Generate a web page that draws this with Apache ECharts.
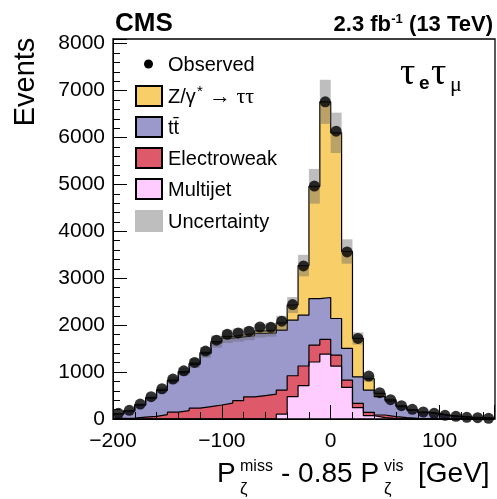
<!DOCTYPE html>
<html><head><meta charset="utf-8">
<script src="https://cdn.jsdelivr.net/npm/echarts@6/dist/echarts.min.js"></script>
<style>html,body{margin:0;padding:0;background:#fff}#c{width:497px;height:499px}</style>
</head><body><div id="c"></div>
<script>
// bin low edges (GeV), width 10
const binLow = [-200,-190,-180,-170,-160,-150,-140,-130,-120,-110,-100,-90,-80,-70,-60,-50,-40,-30,-20,-10,0,10,20,30,40,50,60,70,80,90,100,110,120,130,140];
const binWidth = 10;
const observed   = [121,185,319,475,645,851,1028,1206,1447,1681,1805,1834,1873,1961,1955,2085,2440,3263,4965,6760,6135,3561,1717,915,560,411,284,206,149,121,78,57,36,28,15];
const multijet   = [0,0,0,0,0,0,0,0,0,0,0,0,0,0,0,106,475,710,1215,1383,1128,674,241,70,28,10,5,2,1,0,0,0,0,0,0];
const electroweak= [12,20,40,57,92,145,180,230,262,298,340,390,470,500,530,511,447,420,360,313,234,156,92,72,57,40,23,13,9,6,4,3,2,1,1];
const ttbar      = [98,152,255,386,518,667,810,935,1130,1322,1385,1360,1305,1325,1305,1277,1185,1083,992,894,780,674,567,475,390,335,237,175,127,102,69,49,34,25,13];
const ztautau    = [5,8,10,12,15,18,20,25,28,30,35,40,45,55,65,156,323,1057,2393,4170,3958,2066,817,243,72,25,15,10,8,7,5,3,2,2,1];
const uncertainty= [12,18,28,40,55,70,85,100,115,130,140,140,140,145,145,150,170,230,370,470,430,260,130,65,45,32,22,16,12,10,7,5,4,3,2];
const xTickValues = [-200,-100,0,100];
const yTickValues = [0,1000,2000,3000,4000,5000,6000,7000,8000];

const cumMJ = multijet.slice();
const cumEW = cumMJ.map((v,i)=>v+electroweak[i]);
const cumTT = cumEW.map((v,i)=>v+ttbar[i]);
const cumZ  = cumTT.map((v,i)=>v+ztautau[i]);
const last = binLow.length-1;
function stepData(arr){
  const d = binLow.map((x,i)=>[x, arr[i]]);
  d.push([binLow[last]+binWidth, arr[last]]);
  return d;
}
function histSeries(name, arr, color){
  return {type:'line', name, data: stepData(arr), step:'end', symbol:'none',
    lineStyle:{color:'#000', width:1.2}, areaStyle:{color, opacity:1}, z:2, silent:true, animation:false};
}
const FONT = "'Liberation Sans', Arial, Helvetica, sans-serif";
const chart = echarts.init(document.getElementById('c'), null, {renderer:'canvas'});
chart.setOption({
  animation:false,
  backgroundColor:'#fff',
  grid:{left:113, top:39, right:2, bottom:80, show:false},
  xAxis:[
    {type:'value', min:-200, max:150, interval:100, position:'bottom', z:10,
     axisLine:{show:true, onZero:false, lineStyle:{color:'#000', width:1}},
     axisTick:{show:true, inside:true, length:14, lineStyle:{color:'#000', width:1}},
     axisLabel:{fontSize:21, color:'#000', fontFamily:FONT, margin:12,
       formatter:v=> xTickValues.indexOf(v)<0 ? '' : (v<0 ? '\u2212'+(-v) : String(v))},
     splitLine:{show:false}},
    {type:'value', min:-200, max:150, interval:20, position:'bottom', offset:0, z:10,
     axisLine:{show:false, onZero:false}, axisTick:{show:true, inside:true, length:7, lineStyle:{color:'#000', width:1}},
     axisLabel:{show:false}, splitLine:{show:false}}
  ],
  yAxis:[
    {type:'value', min:0, max:8100, interval:1000, position:'left', z:10,
     axisLine:{show:true, onZero:false, lineStyle:{color:'#000', width:1}},
     axisTick:{show:true, inside:true, length:14, lineStyle:{color:'#000', width:1}},
     axisLabel:{fontSize:21, color:'#000', fontFamily:FONT, margin:8,
       formatter:v=> yTickValues.indexOf(v)<0 ? '' : String(v)},
     splitLine:{show:false}},
    {type:'value', min:0, max:8100, interval:200, position:'left', offset:0, z:10,
     axisLine:{show:false, onZero:false}, axisTick:{show:true, inside:true, length:7, lineStyle:{color:'#000', width:1}},
     axisLabel:{show:false}, splitLine:{show:false}}
  ],
  series:[
    histSeries('Z/γ* → ττ', cumZ, '#F8CE68'),
    histSeries('tt̄', cumTT, '#9B98CC'),
    histSeries('Electroweak', cumEW, '#DE5A6A'),
    histSeries('Multijet', cumMJ, '#FFCCFF'),
    {type:'custom', name:'Uncertainty', z:3, silent:true,
     data: binLow.map((x,i)=>[x, x+binWidth, cumZ[i], uncertainty[i]]),
     encode:{x:[0,1], y:[2]},
     renderItem:(params, api)=>{
       const p0 = api.coord([api.value(0), api.value(2)+api.value(3)]);
       const p1 = api.coord([api.value(1), api.value(2)-api.value(3)]);
       return {type:'rect', shape:{x:p0[0], y:p0[1], width:p1[0]-p0[0], height:p1[1]-p0[1]},
               style:{fill:'rgba(100,100,100,0.42)'}};
     }},
    {type:'scatter', name:'Observed', z:5, silent:true, symbol:'circle', symbolSize:11,
     itemStyle:{color:'#000'},
     data: binLow.map((x,i)=>[x+binWidth/2, observed[i]])}
  ],
  graphic:[
    {type:'rect', z:100, shape:{x:113, y:39, width:382, height:380}, style:{fill:null, stroke:'#000', lineWidth:1.3}},
    {type:'text', z:100, x:115, y:23.6, style:{text:'CMS', font:"bold 26px "+FONT, fill:'#000', verticalAlign:'middle', align:'left'}},
    {type:'text', z:100, x:391, y:25.2, style:{text:'2.3 fb', font:"bold 22px "+FONT, fill:'#000', verticalAlign:'middle', align:'right'}},
    {type:'text', z:100, x:397, y:19.3, style:{text:'-1', font:"bold 13px "+FONT, fill:'#000', verticalAlign:'middle', align:'center'}},
    {type:'text', z:100, x:493, y:25.2, style:{text:'(13 TeV)', font:"bold 22px "+FONT, fill:'#000', verticalAlign:'middle', align:'right'}},
    // channel label
    {type:'text', z:100, x:400, y:73.8, style:{text:'τ', font:"38px 'Liberation Serif', serif", fill:'#000', verticalAlign:'middle', align:'left'}},
    {type:'text', z:100, x:419, y:84, style:{text:'e', font:"bold 19px "+FONT, fill:'#000', verticalAlign:'middle', align:'left'}},
    {type:'text', z:100, x:431, y:73.8, style:{text:'τ', font:"38px 'Liberation Serif', serif", fill:'#000', verticalAlign:'middle', align:'left'}},
    {type:'text', z:100, x:450, y:85, style:{text:'μ', font:"22px 'Liberation Serif', serif", fill:'#000', verticalAlign:'middle', align:'left'}},
    // y title
    {type:'text', z:100, x:26, y:82, rotation:Math.PI/2, style:{text:'Events', font:"29px "+FONT, fill:'#000', verticalAlign:'middle', align:'center'}},
    // x title
    {type:'text', z:100, x:217, y:474.6, style:{text:'P', font:"28px "+FONT, fill:'#000', verticalAlign:'middle', align:'left'}},
    {type:'text', z:100, x:240, y:466.5, style:{text:'miss', font:"16px "+FONT, fill:'#000', verticalAlign:'middle', align:'left'}},
    {type:'text', z:100, x:240, y:489, style:{text:'ζ', font:"17px "+FONT, fill:'#000', verticalAlign:'middle', align:'left'}},
    {type:'text', z:100, x:281, y:474.6, style:{text:'- 0.85 P', font:"28px "+FONT, fill:'#000', verticalAlign:'middle', align:'left'}},
    {type:'text', z:100, x:384, y:466.5, style:{text:'vis', font:"16px "+FONT, fill:'#000', verticalAlign:'middle', align:'left'}},
    {type:'text', z:100, x:384, y:489, style:{text:'ζ', font:"17px "+FONT, fill:'#000', verticalAlign:'middle', align:'left'}},
    {type:'text', z:100, x:418, y:474.6, style:{text:'[GeV]', font:"28px "+FONT, fill:'#000', verticalAlign:'middle', align:'left'}},
    // legend
    {type:'circle', z:100, shape:{cx:148.5, cy:64, r:4.5}, style:{fill:'#000'}},
    {type:'rect', z:100, shape:{x:136, y:86, width:26, height:20}, style:{fill:'#F8CE68', stroke:'#000', lineWidth:2}},
    {type:'rect', z:100, shape:{x:136, y:117, width:26, height:20}, style:{fill:'#9B98CC', stroke:'#000', lineWidth:2}},
    {type:'rect', z:100, shape:{x:136, y:148, width:26, height:20}, style:{fill:'#DE5A6A', stroke:'#000', lineWidth:2}},
    {type:'rect', z:100, shape:{x:136, y:179, width:26, height:20}, style:{fill:'#FFCCFF', stroke:'#000', lineWidth:2}},
    {type:'rect', z:100, shape:{x:135, y:210, width:28, height:22}, style:{fill:'rgba(100,100,100,0.42)'}},
    {type:'text', z:100, x:168, y:65, style:{text:'Observed', font:"20px "+FONT, fill:'#000', verticalAlign:'middle', align:'left'}},
    {type:'text', z:100, x:168, y:97, style:{text:'Z/γ', font:"20px "+FONT, fill:'#000', verticalAlign:'middle', align:'left'}},
    {type:'text', z:100, x:197, y:92, style:{text:'*', font:"15px "+FONT, fill:'#000', verticalAlign:'middle', align:'left'}},
    {type:'text', z:100, x:209, y:97, style:{text:'→ ττ', font:"22px 'Liberation Serif', serif", fill:'#000', verticalAlign:'middle', align:'left'}},
    {type:'text', z:100, x:168, y:128, style:{text:'tt\u0304', font:"20px "+FONT, fill:'#000', verticalAlign:'middle', align:'left'}},
    {type:'text', z:100, x:168, y:159, style:{text:'Electroweak', font:"20px "+FONT, fill:'#000', verticalAlign:'middle', align:'left'}},
    {type:'text', z:100, x:168, y:190, style:{text:'Multijet', font:"20px "+FONT, fill:'#000', verticalAlign:'middle', align:'left'}},
    {type:'text', z:100, x:168, y:222, style:{text:'Uncertainty', font:"20px "+FONT, fill:'#000', verticalAlign:'middle', align:'left'}}
  ]
});
</script>
</body></html>
